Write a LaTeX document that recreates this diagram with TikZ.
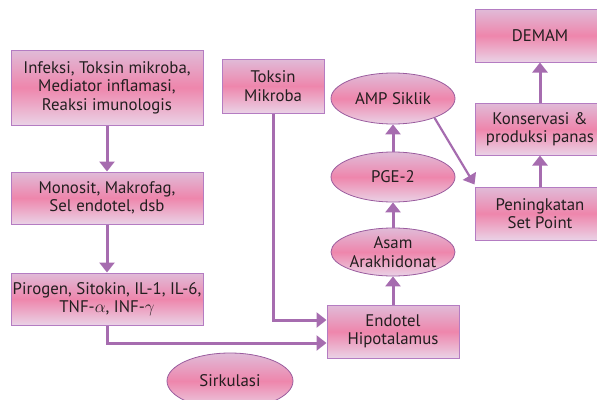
\documentclass[tikz,border=0pt]{standalone}
\usepackage{fontspec}
\setmainfont{PT Sans}
\usetikzlibrary{arrows.meta,shapes.geometric,calc}
\definecolor{bordr}{HTML}{B47CC2}
\definecolor{eborder}{HTML}{9A5C9E}
\definecolor{gtop}{HTML}{E0BBD8}
\definecolor{gmid}{HTML}{EE86AC}
\definecolor{gbot}{HTML}{EAD2E6}
\definecolor{arr}{HTML}{A66CAF}
\definecolor{txt}{HTML}{231F20}
\tikzset{
  base/.style={font=\fontsize{16.8}{18.5}\selectfont, text=txt, align=center, inner sep=0pt,
     top color=gtop, bottom color=gbot, middle color=gmid},
  pbox/.style={base, rectangle, draw=bordr, line width=1pt},
  pell/.style={base, ellipse, draw=eborder, line width=0.8pt},
  conn/.style={draw=arr, line width=3pt, -{Triangle[width=15pt,length=10pt]}},
}
\begin{document}
\begin{tikzpicture}[x=1pt,y=-1pt]
\useasboundingbox (0,0) rectangle (597,399);
\clip (0,0) rectangle (597,399);
% boxes
\node[pbox, minimum width=192pt, minimum height=75pt] (b1) at (107,87.5) {Infeksi, Toksin mikroba,\\Mediator inflamasi,\\Reaksi imunologis};
\node[pbox, minimum width=192pt, minimum height=52pt] (b2) at (107,198) {Monosit, Makrofag,\\Sel endotel, dsb};
\node[pbox, minimum width=192pt, minimum height=52pt] (b3) at (107,299) {Pirogen, Sitokin, IL-1, IL-6,\\TNF-$\alpha$, INF-$\gamma$};
\node[pbox, minimum width=102pt, minimum height=54pt] (tox) at (273,86) {Toksin\\Mikroba};
\node[pbox, minimum width=132pt, minimum height=53pt] (endo) at (393,331.5) {Endotel\\Hipotalamus};
\node[pell, minimum width=124pt, minimum height=48pt] (asam) at (393,252) {Asam\\Arakhidonat};
\node[pell, minimum width=124pt, minimum height=50pt] (pge) at (393,177) {PGE-2};
\node[pell, minimum width=124pt, minimum height=51pt] (amp) at (393,98.5) {AMP Siklik};
\node[pell, minimum width=126pt, minimum height=56pt] (sirk) at (230,381) {Sirkulasi};
\node[pbox, minimum width=130pt, minimum height=53pt] (dem) at (540,35.5) {DEMAM};
\node[pbox, minimum width=130pt, minimum height=52pt] (kons) at (540,129) {Konservasi \&\\produksi panas};
\node[pbox, minimum width=130pt, minimum height=53pt] (pen) at (540,213.5) {Peningkatan\\Set Point};
% connectors
\draw[conn] (b1.south) -- (b2.north);
\draw[conn] (b2.south) -- (b3.north);
\draw[conn] (b3.south) |- ($(endo.west)+(0,11.5)$);
\draw[conn] (tox.south) |- ($(endo.west)+(0,-11.5)$);
\draw[conn] (endo.north) -- (asam.south);
\draw[conn] (asam.north) -- (pge.south);
\draw[conn] (pge.north) -- (amp.south);
\draw[conn, line width=2.2pt] (amp.-25) -- ($(pen.north west)+(0,-2)$);
\draw[conn] (pen.north) -- (kons.south);
\draw[conn] (kons.north) -- (dem.south);
\end{tikzpicture}
\end{document}
